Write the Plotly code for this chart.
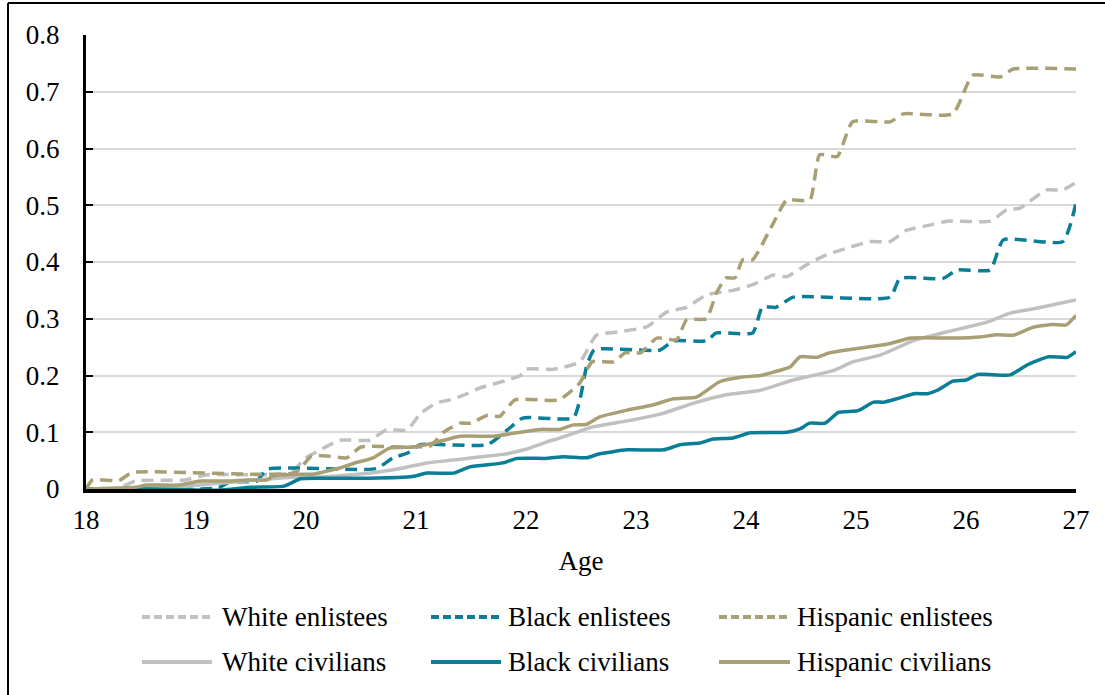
import plotly.graph_objects as go

# Cumulative share by age, by group
white_enl_age = [18.0, 18.3, 18.45, 18.9, 19.1, 19.85, 20.0, 20.13, 20.31, 20.58, 20.73, 20.92, 21.04, 21.19,
                 21.31, 21.43, 21.58, 21.83, 21.95, 22.0, 22.25, 22.49, 22.64, 22.85, 23.1, 23.28, 23.46,
                 23.64, 23.88, 24.06, 24.25, 24.37, 24.55, 24.7, 24.91, 25.13, 25.31, 25.46, 25.67, 25.83,
                 26.22, 26.37, 26.49, 26.73, 26.88, 27.0]
white_enl_val = [0.0, 0.002, 0.014, 0.016, 0.025, 0.028, 0.055, 0.069, 0.086, 0.086, 0.104, 0.104, 0.133, 0.152,
                 0.157, 0.165, 0.178, 0.192, 0.2, 0.211, 0.211, 0.224, 0.271, 0.277, 0.286, 0.312, 0.32,
                 0.342, 0.35, 0.36, 0.377, 0.374, 0.395, 0.41, 0.424, 0.436, 0.436, 0.456, 0.465, 0.472,
                 0.472, 0.492, 0.495, 0.527, 0.527, 0.54]

black_enl_age = [18.0, 19.2, 19.3, 19.55, 19.65, 20.64, 20.79, 20.92, 21.04, 21.65, 21.83, 21.97, 22.43, 22.49,
                 22.55, 22.62, 23.22, 23.34, 23.64, 23.73, 24.06, 24.15, 24.27, 24.43, 25.31, 25.4, 25.79,
                 25.92, 26.22, 26.34, 26.88, 27.0]
black_enl_val = [0.0, 0.002, 0.012, 0.014, 0.035, 0.036, 0.055, 0.063, 0.078, 0.078, 0.104, 0.125, 0.125, 0.157,
                 0.215, 0.245, 0.245, 0.261, 0.261, 0.275, 0.275, 0.321, 0.32, 0.338, 0.338, 0.371, 0.371,
                 0.386, 0.386, 0.439, 0.436, 0.504]

hisp_enl_age = [18.0, 18.06, 18.3, 18.42, 19.9, 20.05, 20.2, 20.37, 20.5, 20.9, 21.13, 21.25, 21.4, 21.5, 21.65,
                21.76, 21.9, 22.3, 22.49, 22.6, 22.8, 22.9, 23.04, 23.19, 23.37, 23.46, 23.64, 23.73, 23.82,
                23.9, 23.97, 24.06, 24.25, 24.37, 24.58, 24.67, 24.83, 24.97, 25.31, 25.43, 25.88, 26.06,
                26.31, 26.43, 27.0]
hisp_enl_val = [0.0, 0.016, 0.015, 0.029, 0.029, 0.058, 0.058, 0.055, 0.074, 0.074, 0.076, 0.1, 0.116, 0.116, 0.13,
                0.128, 0.157, 0.157, 0.187, 0.224, 0.224, 0.24, 0.24, 0.266, 0.263, 0.298, 0.3, 0.345, 0.372,
                0.372, 0.404, 0.404, 0.469, 0.509, 0.509, 0.589, 0.586, 0.647, 0.647, 0.661, 0.661, 0.729,
                0.726, 0.74, 0.74]

white_civ_age = [18.0, 18.5, 18.9, 19.2, 19.5, 19.8, 20.13, 20.58, 20.88, 21.1, 21.34, 21.55, 21.79, 22.0, 22.19,
                 22.31, 22.46, 22.6, 22.92, 23.22, 23.52, 23.82, 24.13, 24.43, 24.8, 24.97, 25.22, 25.53,
                 25.83, 26.19, 26.4, 26.65, 27.0]
white_civ_val = [0.0, 0.002, 0.005, 0.01, 0.015, 0.02, 0.021, 0.028, 0.037, 0.046, 0.051, 0.056, 0.061, 0.07, 0.083,
                 0.09, 0.1, 0.109, 0.12, 0.132, 0.151, 0.166, 0.174, 0.192, 0.209, 0.224, 0.236, 0.262,
                 0.277, 0.294, 0.31, 0.319, 0.333]

black_civ_age = [18.0, 18.6, 19.2, 19.5, 19.8, 19.95, 20.13, 20.58, 20.97, 21.1, 21.34, 21.49, 21.79, 21.92, 22.19,
                 22.34, 22.55, 22.67, 22.92, 23.25, 23.4, 23.58, 23.7, 23.88, 24.04, 24.37, 24.49, 24.58,
                 24.72, 24.84, 25.02, 25.16, 25.25, 25.37, 25.53, 25.65, 25.74, 25.88, 26.0, 26.11, 26.4,
                 26.56, 26.75, 26.92, 27.0]
black_civ_val = [0.0, 0.0, -0.002, 0.003, 0.005, 0.018, 0.019, 0.019, 0.022, 0.028, 0.028, 0.039, 0.046, 0.054, 0.054,
                 0.057, 0.055, 0.062, 0.069, 0.069, 0.078, 0.081, 0.088, 0.09, 0.099, 0.1, 0.106, 0.116,
                 0.116, 0.135, 0.138, 0.153, 0.153, 0.159, 0.168, 0.168, 0.174, 0.19, 0.192, 0.202, 0.201,
                 0.219, 0.233, 0.232, 0.242]

hisp_civ_age = [18.0, 18.45, 18.55, 18.85, 19.04, 19.3, 19.46, 19.65, 19.7, 19.92, 20.06, 20.2, 20.31, 20.43,
                20.61, 20.76, 20.97, 21.16, 21.4, 21.7, 21.95, 22.13, 22.31, 22.43, 22.55, 22.67, 22.92,
                23.15, 23.34, 23.55, 23.76, 23.95, 24.13, 24.25, 24.4, 24.49, 24.64, 24.76, 24.95, 25.28,
                25.5, 25.88, 26.13, 26.28, 26.43, 26.61, 26.79, 26.91, 27.0]
hisp_civ_val = [0.0, 0.003, 0.007, 0.007, 0.014, 0.014, 0.016, 0.016, 0.023, 0.026, 0.026, 0.032, 0.037, 0.045,
                0.055, 0.072, 0.074, 0.081, 0.093, 0.093, 0.1, 0.105, 0.105, 0.113, 0.114, 0.127, 0.139,
                0.148, 0.159, 0.162, 0.189, 0.197, 0.2, 0.206, 0.215, 0.233, 0.232, 0.24, 0.246, 0.255,
                0.266, 0.266, 0.268, 0.272, 0.271, 0.285, 0.29, 0.289, 0.306]

y_ticks = [0, 0.1, 0.2, 0.3, 0.4, 0.5, 0.6, 0.7, 0.8]
x_ticks = [18, 19, 20, 21, 22, 23, 24, 25, 26, 27]

GRAY = "#C0C0C0"
TEAL = "#0A7D97"
KHAKI = "#A89F74"
FONT = "Liberation Serif"
PLOT_DASH = "12px,7px"
KEY_DASH = "8px,4px"

series = [
    ("White enlistees", white_enl_age, white_enl_val, GRAY, True),
    ("Black enlistees", black_enl_age, black_enl_val, TEAL, True),
    ("Hispanic enlistees", hisp_enl_age, hisp_enl_val, KHAKI, True),
    ("White civilians", white_civ_age, white_civ_val, GRAY, False),
    ("Black civilians", black_civ_age, black_civ_val, TEAL, False),
    ("Hispanic civilians", hisp_civ_age, hisp_civ_val, KHAKI, False),
]

fig = go.Figure()
for name, ages, vals, color, dashed in series:
    fig.add_trace(go.Scatter(
        x=ages, y=vals, name=name, mode="lines",
        line=dict(color=color, width=3.5, dash=PLOT_DASH if dashed else "solid",
                  shape="spline", smoothing=0.5),
        showlegend=False,
    ))

# Page geometry (pixels) for the key below the chart
W, H = 1105, 695
L, R, T, B = 86, 29, 35, 206
PW, PH = W - L - R, H - T - B


def px(xp):
    return (xp - L) / PW


def py(yp):
    return (H - B - yp) / PH


shapes = []
annotations = []
cols = [(142, 212, 220), (431, 501, 506), (719, 790, 795)]
rows = [617, 662]
for i, (name, ages, vals, color, dashed) in enumerate(series):
    r = 0 if dashed else 1
    c = i % 3
    x0, x1, xt = cols[c]
    yy = rows[r]
    shapes.append(dict(type="line", xref="paper", yref="paper",
                       x0=px(x0), x1=px(x1), y0=py(yy), y1=py(yy),
                       line=dict(color=color, width=4, dash=KEY_DASH if dashed else "solid")))
    annotations.append(dict(text=name, xref="paper", yref="paper", x=px(xt), y=py(yy),
                            xanchor="left", yanchor="middle", showarrow=False,
                            font=dict(family=FONT, size=27, color="black")))

# outer frame (top and left edges)
shapes.append(dict(type="line", xref="paper", yref="paper", x0=px(8), x1=px(W + 5),
                   y0=py(3), y1=py(3), line=dict(color="black", width=2)))
shapes.append(dict(type="line", xref="paper", yref="paper", x0=px(8), x1=px(8),
                   y0=py(3), y1=py(H + 5), line=dict(color="black", width=2)))

tick_font = dict(family=FONT, size=27, color="black")

fig.update_layout(
    width=W, height=H,
    margin=dict(l=L, r=R, t=T, b=B),
    paper_bgcolor="white", plot_bgcolor="white",
    font=dict(family=FONT, size=27, color="black"),
    shapes=shapes, annotations=annotations,
    xaxis=dict(range=[18, 27], tickvals=x_ticks, showgrid=False, zeroline=False,
               showline=True, linecolor="black", linewidth=4, ticks="",
               tickfont=tick_font, ticklabelstandoff=4,
               title=dict(text="Age", standoff=18, font=dict(family=FONT, size=27))),
    yaxis=dict(range=[0, 0.8], tickvals=y_ticks, showgrid=True, gridcolor="#D9D9D9", gridwidth=2,
               zeroline=False, showline=True, linecolor="black", linewidth=3,
               ticks="inside", ticklen=7, tickwidth=2, tickcolor="black",
               tickfont=tick_font, ticklabelstandoff=18),
)

fig.write_html("out.html")
